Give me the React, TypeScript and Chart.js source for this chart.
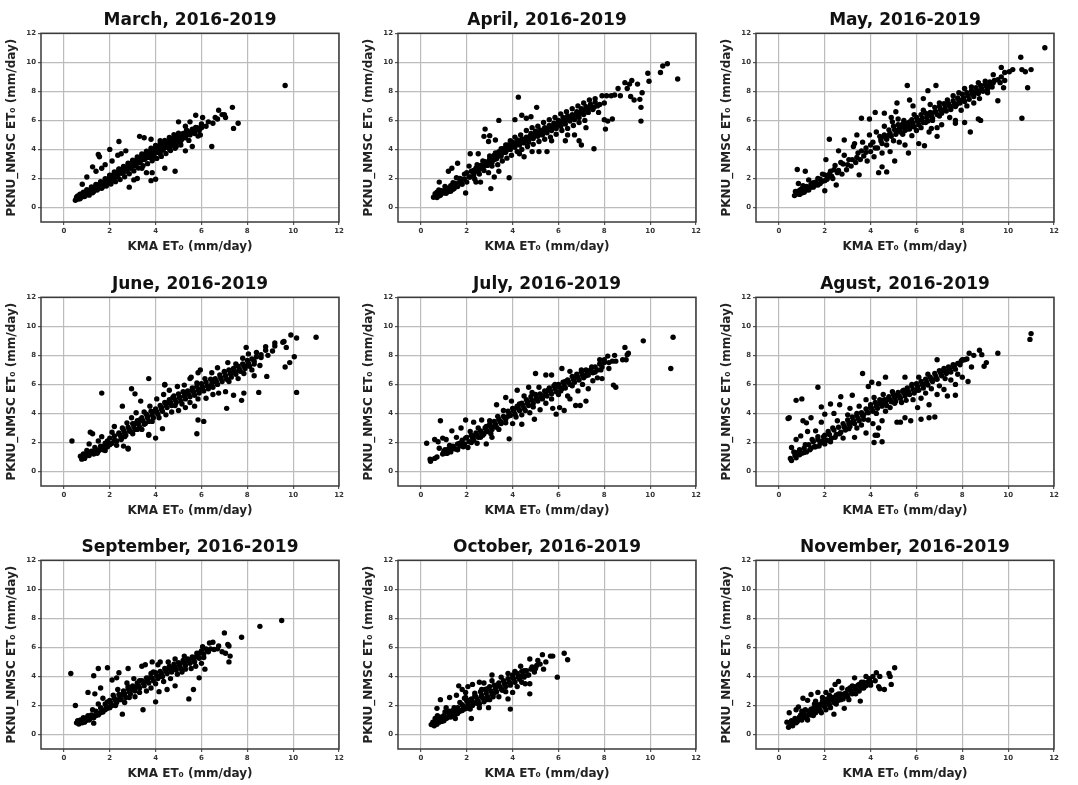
import React, { useEffect, useRef } from "react";
import { Chart, registerables } from "chart.js";

Chart.register(...registerables);

type P = [number, number];

const tickValues = [0, 2, 4, 6, 8, 10, 12];
const xAxisLabel = "KMA ET₀ (mm/day)";
const yAxisLabel = "PKNU_NMSC ET₀ (mm/day)";

const marchPoints: P[] = [
[0.5,0.5],[0.55,0.7],[0.62,0.58],[0.7,0.92],[0.78,0.72],[0.85,1.05],[0.93,0.85],[1.0,1.22],[1.05,0.95],[1.15,1.12],[1.2,1.42],[1.25,1.02],[1.35,1.25],[1.4,1.58],[1.45,1.2],[1.55,1.45],[1.6,1.78],[1.65,1.32],[1.75,1.62],[1.8,1.98],[1.85,1.48],[1.95,1.8],[2.0,2.22],[2.05,1.62],[2.15,2.0],[2.2,2.45],[2.25,1.78],[2.35,2.15],[2.4,2.62],[2.45,1.92],[2.55,2.4],[2.6,2.82],[2.65,2.12],[2.75,2.6],[2.8,3.05],[2.85,2.32],[2.95,2.8],[3.0,3.25],[3.05,2.52],[3.15,3.0],[3.2,3.48],[3.25,2.72],[3.35,3.2],[3.4,3.68],[3.45,2.88],[3.55,3.35],[3.6,3.88],[3.65,3.02],[3.75,3.55],[3.8,4.08],[3.85,3.22],[3.95,3.7],[4.0,4.28],[4.05,3.38],[4.15,3.9],[4.2,4.42],[4.25,3.52],[4.35,4.05],[4.4,4.62],[4.45,3.72],[4.55,4.2],[4.6,4.82],[4.65,3.92],[4.75,4.4],[4.8,5.02],[4.85,4.08],[4.95,4.55],[5.0,5.12],[5.1,4.3],[5.15,4.72],[5.3,4.88],[5.35,5.32],[5.45,4.62],[5.5,5.08],[5.7,5.25],[5.75,5.52],[5.85,4.92],[6.0,5.5],
[9.65,8.4],[7.35,6.9],[7.6,5.8],[7.4,5.45],[6.75,6.7],[7.05,6.2],[6.45,4.2],[5.75,6.35],[6.05,6.2],[5.95,5.0],[5.6,4.2],[4.85,2.5],[5.3,3.9],[2.85,1.4],[3.2,2.0],[3.05,1.9],[3.8,1.85],[4.0,1.95],[3.85,2.4],[3.6,2.4],[2.4,4.55],[2.0,4.0],[1.5,3.65],[1.55,3.5],[1.25,2.8],[1.65,2.7],[1.0,2.1],[0.8,1.6],[2.5,3.7],[2.35,3.6],[2.7,3.9],[3.3,4.9],[3.5,4.8],[3.8,4.7],[4.2,4.6],[5.0,5.9],[5.5,5.9],[5.3,5.6],[6.3,5.9],[6.5,5.8],[6.7,6.1],[6.9,6.4],[7.0,6.4],[6.6,6.2],[6.2,5.6],[4.4,2.7],[3.4,2.7],[2.1,3.2],[1.8,2.95],[1.4,2.5]
];
const marchCore: P[] = [
[.6,.8],[.7,.6],[.8,.95],[.9,.75],[1,1.15],[1.1,.85],[1.2,1.3],[1.3,1.1],[1.4,1.55],[1.5,1.3],[1.6,1.7],[1.7,1.45],[1.8,1.85],[1.9,1.7],[2,2.2],[2.1,1.9],[2.2,2.35],[2.3,2.1],[2.4,2.65],[2.5,2.35],[2.6,2.75],[2.7,2.5],[2.8,2.95],[2.9,2.7],[3,3.2],[3.1,2.85],[3.2,3.35],[3.3,3.1],[3.4,3.6],[3.5,3.3],[3.6,3.7],[3.7,3.45],[3.8,3.95],[3.9,3.65],[4,4.1],[4.1,3.8],[4.2,4.2],[4.3,3.95],[4.4,4.5],[4.5,4.15],[4.6,4.6],[4.7,4.25],[4.8,4.8],[4.9,4.45],[5,5],[5.1,4.6],[5.2,5.1],[5.3,4.8],[5.4,5.25],[5.5,5],[5.6,5.4],[5.7,5.1],[5.8,5.5],[5.9,5.3],[6,5.75],
[.75,.8],[.95,1],[1.15,1.2],[1.35,1.4],[1.55,1.6],[1.75,1.75],[1.95,2],[2.15,2.2],[2.35,2.4],[2.55,2.6],[2.75,2.75],[2.95,2.95],[3.15,3.2],[3.35,3.35],[3.55,3.55],[3.75,3.7],[3.95,3.9],[4.15,4.1],[4.35,4.25],[4.55,4.4],[4.75,4.6],[4.95,4.8],[5.15,4.95],[5.35,5.05],[5.55,5.2],[5.75,5.35],[5.95,5.5],[4.6,4.05],[4.9,4.2],[4.2,3.7],[3.9,3.4]
];

const aprilPoints: P[] = [
[0.55,0.7],[0.62,0.95],[0.7,0.68],[0.78,1.2],[0.85,0.85],[0.8,1.75],[0.95,1.05],[1.05,1.45],[1.1,0.98],[1.2,1.3],[1.3,1.12],[1.4,1.7],[1.45,1.3],[1.55,2.05],[1.6,1.45],[1.7,1.8],[1.6,3.05],[1.8,1.6],[1.9,2.3],[2.0,1.75],[2.1,2.85],[2.15,2.1],[2.3,2.55],[2.35,1.95],[2.45,2.95],[2.55,2.3],[2.6,1.75],[2.7,3.2],[2.75,2.55],[2.85,2.95],[2.95,2.4],[3.0,3.55],[3.1,2.85],[3.2,3.3],[3.25,3.75],[3.35,2.95],[3.45,3.55],[3.5,4.05],[3.55,3.2],[3.65,3.8],[3.7,4.3],[3.75,3.4],[3.85,4.05],[3.9,4.6],[3.95,3.6],[4.05,4.3],[4.1,4.85],[4.2,3.85],[4.25,4.55],[4.35,5.0],[4.4,4.0],[4.5,4.7],[4.6,5.3],[4.65,4.2],[4.75,4.9],[4.85,5.5],[4.9,4.35],[5.0,5.05],[5.1,5.6],[5.15,4.55],[5.25,5.25],[5.35,5.85],[5.4,4.7],[5.5,5.4],[5.6,6.05],[5.65,4.85],[5.75,5.6],[5.85,6.2],[5.9,5.05],[6.0,5.8],[6.1,6.45],[6.15,5.3],[6.25,6.0],[6.35,6.6],[6.4,5.45],[6.5,6.2],[6.6,6.8],[6.65,5.65],[6.75,6.4],[6.85,7.0],[6.9,5.85],[7.0,6.6],[7.1,7.2],[7.15,6.0],[7.25,6.8],[7.35,7.4],
[7.6,7.5],[7.55,6.9],[8.1,7.7],[8.3,7.7],[8.45,7.75],[8.0,7.2],[7.8,7.1],[7.9,7.7],[8.6,8.2],[8.7,7.7],[8.9,8.6],[9.0,8.2],[9.2,8.75],[9.1,8.5],[9.45,8.5],[9.65,7.9],[9.15,7.65],[9.3,7.4],[9.55,7.45],[9.6,6.9],[9.6,5.95],[9.9,9.25],[9.95,8.7],[10.45,9.3],[10.55,9.75],[10.75,9.9],[11.2,8.85],[8.0,6.05],[8.15,5.95],[8.05,5.4],[8.35,6.1],[7.75,6.55],[7.55,4.05],[7.0,4.3],[6.9,4.6],[7.2,5.5],[6.7,5.0],[6.4,5.0],[6.3,4.6],[5.7,4.6],[5.5,3.85],[5.15,3.85],[4.85,3.85],[4.5,3.5],[4.3,3.7],[3.85,2.05],[3.05,1.3],[1.95,1.0],[4.25,7.6],[5.05,6.9],[3.4,6.0],[4.4,6.35],[4.1,6.05],[4.6,6.15],[4.8,6.25],[2.8,5.4],[2.75,4.9],[3.0,4.95],[3.25,4.65],[2.95,4.55],[2.15,3.7],[2.5,3.7],[1.2,2.5],[1.35,2.7],[2.4,1.75],[3.4,2.5],[3.2,2.1]
];
const aprilCore: P[] = [
[.7,1.05],[.8,.8],[.9,1.15],[1,1],[1.1,1.35],[1.2,1.1],[1.3,1.5],[1.4,1.25],[1.5,1.65],[1.6,1.6],[1.7,2],[1.8,1.95],[1.9,1.95],[2,2.4],[2.1,2.1],[2.2,2.5],[2.3,2.2],[2.4,2.7],[2.5,2.45],[2.6,2.9],[2.7,2.7],[2.8,3.15],[2.9,2.9],[3,3.35],[3.1,3.1],[3.2,3.6],[3.3,3.35],[3.4,3.85],[3.5,3.55],[3.6,4.05],[3.7,3.8],[3.8,4.3],[3.9,4.0],[4,4.5],[4.1,4.15],[4.2,4.65],[4.3,4.3],[4.4,4.7],[4.5,4.45],[4.6,4.85],[4.7,4.5],[4.8,5.1],[4.9,4.75],[5,5.25],[5.1,4.9],[5.2,5.35],[5.3,5],[5.4,5.5],[5.5,5.15],[5.6,5.65],[5.7,5.3],[5.8,5.8],[5.9,5.45],[6,6],[6.1,5.6],[6.2,6.2],[6.3,5.75],[6.4,6.3],[6.5,5.95],[6.6,6.4],[6.7,6.05],[6.8,6.6],[6.9,6.2],[7,6.8],[7.1,6.4],[7.2,6.95],[7.3,6.55],[7.4,7.1],[7.5,6.75],[7.6,7.25],[7.7,7],
[3.55,3.75],[3.75,4],[3.95,4.25],[4.15,4.4],[4.35,4.5],[4.55,4.65],[4.75,4.75],[4.95,4.95],[5.15,5.1],[5.35,5.2],[5.55,5.4],[5.75,5.55],[5.95,5.7],[6.15,5.9],[6.35,6.05],[6.55,6.2],[6.75,6.3],[6.95,6.5],[7.15,6.7],[7.35,6.85],[2.35,2.45],[2.55,2.65],[2.75,2.9],[2.95,3.15],[3.15,3.3],[3.35,3.6],[1.25,1.3],[1.45,1.45],[1.05,1.15],[.85,1]
];

const mayPoints: P[] = [
[0.68,0.82],[0.72,1.1],[0.8,0.95],[0.85,1.65],[0.8,2.62],[0.92,1.2],[1.0,1.0],[1.05,1.5],[1.15,1.15],[1.15,2.5],[1.25,1.35],[1.3,1.9],[1.4,1.4],[1.5,1.7],[1.6,1.55],[1.7,2.0],[1.8,1.65],[1.9,2.3],[2.0,1.15],[2.0,1.85],[2.05,3.3],[2.15,2.1],[2.2,4.7],[2.25,2.5],[2.35,2.0],[2.45,2.9],[2.5,1.55],[2.55,2.4],[2.6,3.9],[2.7,3.1],[2.75,2.3],[2.85,4.65],[2.85,3.6],[2.95,2.6],[3.05,3.3],[3.15,2.85],[3.25,4.2],[3.35,3.1],[3.4,5.0],[3.45,3.75],[3.5,2.25],[3.55,3.3],[3.65,4.5],[3.7,3.55],[3.8,4.1],[3.85,3.2],[3.95,5.0],[4.0,3.85],[4.1,4.5],[4.15,3.5],[4.25,5.2],[4.3,4.1],[4.35,2.4],[4.45,4.75],[4.5,2.8],[4.5,3.75],[4.6,5.6],[4.7,4.3],[4.7,2.45],[4.8,5.0],[4.85,3.85],[4.95,5.9],[5.0,4.6],[5.05,3.2],[5.1,5.3],[5.2,6.1],[5.25,4.5],[5.3,5.5],[5.4,5.05],[5.45,6.0],[5.5,4.3],[5.6,5.4],[5.65,3.75],[5.7,5.9],[5.8,4.95],[5.85,5.6],[5.9,6.4],[6.0,5.3],[6.1,4.4],[6.1,6.0],[6.2,5.5],[6.3,6.7],[6.35,4.25],[6.4,5.85],[6.5,6.3],[6.55,5.2],[6.6,7.1],[6.7,6.0],[6.8,6.6],[6.9,5.5],[7.0,7.2],[7.0,6.3],[7.1,5.7],[7.2,6.7],[7.35,7.4],[7.45,6.2],[7.5,6.9],[7.6,7.7],[7.7,6.0],[7.75,7.1],[7.85,7.9],[7.95,6.7],[8.0,7.4],[8.1,8.2],[8.2,7.0],[8.25,7.7],[8.4,8.3],[8.5,7.2],[8.55,7.9],[8.7,8.6],[8.75,7.5],[8.85,8.1],[9.0,8.7],[9.1,7.9],[9.2,8.4],[9.35,8.6],[9.55,8.8],[9.7,9.0],[9.65,8.6],[9.85,8.75],[9.85,9.3],[9.7,9.65],[9.35,9.15],[9.55,7.35],[9.8,8.25],
[10.2,9.5],[10.05,9.35],[10.55,10.35],[10.6,9.5],[10.75,9.35],[11.0,9.5],[11.6,11.0],[10.85,8.25],[10.6,6.15],[8.35,5.2],[8.7,6.1],[8.8,6.0],[8.1,5.85],[7.7,5.8],[6.9,4.9],[6.65,5.45],[5.6,8.4],[6.85,8.4],[6.5,8.05],[5.15,7.2],[5.7,7.4],[5.85,7.0],[6.3,7.5],[3.6,6.15],[3.95,6.1],[4.2,6.55],[4.6,6.5],[5.1,6.6],[4.9,6.2],[3.3,4.4]
];
const mayCore: P[] = [
[.8,1.1],[.9,.9],[1,1.3],[1.1,1.05],[1.2,1.45],[1.3,1.2],[1.4,1.6],[1.5,1.4],[1.6,1.75],[1.7,1.55],[1.8,1.95],[1.9,1.8],[2,2.25],[2.1,1.95],[2.2,2.3],[2.3,2.15],[2.4,2.6],[2.6,2.55],[2.8,3],[3,2.95],[3.2,3.3],[3.4,3.45],[3.6,3.9],[3.8,3.8],[4,4.3],[4.2,4.1],[4.4,4.9],[4.5,4.4],[4.6,5],[4.7,4.7],[4.8,5.35],[4.9,4.9],[5,5.6],[5.1,5.05],[5.2,5.7],[5.3,5.2],[5.4,5.75],[5.5,5.3],[5.6,5.8],[5.7,5.4],[5.8,6.05],[5.9,5.55],[6,6.2],[6.1,5.7],[6.2,6.4],[6.3,5.85],[6.4,6.5],[6.5,5.95],[6.6,6.55],[6.7,6.15],[6.8,6.9],[6.9,6.4],[7,6.95],[7.1,6.5],[7.2,7.15],[7.3,6.65],[7.4,7.15],[7.5,6.75],[7.6,7.35],[7.7,6.95],[7.8,7.55],[7.9,7.2],[8,7.8],[8.1,7.3],[8.2,7.9],[8.3,7.45],[8.4,8.05],[8.5,7.65],[8.6,8.25],[8.7,7.85],[8.8,8.4],[8.9,8],[9,8.5],[9.1,8.15],[9.2,8.65],[9.3,8.3],[9.4,8.75],
[5.05,5.35],[5.25,5.45],[5.45,5.55],[5.65,5.65],[5.85,5.8],[6.05,5.95],[6.25,6.15],[6.45,6.2],[6.65,6.35],[6.85,6.6],[7.05,6.75],[7.25,6.9],[7.45,7],[7.65,7.15],[7.85,7.35],[8.05,7.55],[8.25,7.7],[8.45,7.85],[8.65,8.05],[8.85,8.2],[9.05,8.35],[9.25,8.5],[4.85,5.1],[4.65,4.85],[4.45,4.6]
];

const junePoints: P[] = [
[0.72,1.05],[0.78,0.85],[0.85,1.2],[0.92,1.0],[1.0,1.45],[1.05,1.15],[1.1,1.9],[1.15,2.7],[1.25,2.6],[1.25,1.3],[1.35,1.65],[1.45,1.25],[1.5,2.1],[1.55,1.5],[1.65,2.4],[1.7,1.7],[1.8,1.45],[1.9,2.1],[2.0,1.85],[2.1,2.7],[2.2,2.15],[2.2,3.1],[2.3,1.8],[2.4,2.6],[2.5,2.2],[2.55,3.0],[2.6,1.75],[2.65,2.4],[2.75,3.35],[2.8,1.6],[2.85,2.8],[2.95,3.7],[3.0,2.6],[3.1,3.3],[3.15,4.05],[3.2,2.9],[3.3,3.55],[3.4,2.9],[3.5,4.1],[3.55,3.3],[3.65,3.8],[3.7,2.5],[3.75,4.5],[3.85,3.45],[3.95,4.15],[4.0,2.3],[4.05,5.0],[4.15,3.7],[4.25,4.4],[4.3,2.95],[4.35,5.3],[4.45,3.9],[4.55,4.75],[4.6,5.6],[4.7,4.1],[4.75,5.1],[4.85,4.55],[4.95,5.85],[5.0,4.2],[5.05,5.1],[5.15,4.65],[5.25,5.95],[5.3,4.4],[5.35,5.4],[5.5,6.4],[5.5,4.75],[5.6,5.6],[5.7,4.5],[5.8,6.1],[5.85,5.0],[5.95,7.0],[5.85,6.8],[6.0,5.7],[6.15,6.4],[6.2,5.05],[6.3,5.85],[6.45,6.8],[6.5,5.3],[6.55,6.2],[6.7,7.15],[6.75,5.4],[6.85,6.45],[7.0,6.9],[7.05,5.5],[7.15,7.5],[7.2,6.2],[7.35,6.8],[7.4,5.25],[7.5,7.4],[7.6,6.4],[7.65,6.95],[7.8,7.8],[7.85,6.75],[8.0,7.3],[8.05,8.1],[8.2,7.0],[8.3,7.6],[8.4,8.2],[8.55,7.3],[8.6,7.85],[8.8,8.6],[8.9,8.0],[9.1,8.3],[9.2,8.85],[9.2,8.65],
[0.35,2.1],[1.65,5.4],[2.55,4.5],[2.95,5.7],[3.1,5.35],[3.7,6.4],[3.35,4.85],[2.8,1.55],[3.7,2.55],[5.8,2.6],[5.85,3.55],[6.1,3.45],[7.1,4.35],[7.75,4.9],[7.85,5.4],[8.5,5.45],[8.85,6.55],[10.15,5.45],[9.65,7.2],[9.85,7.5],[10.05,7.9],[9.6,8.95],[9.55,8.9],[9.7,8.55],[9.9,9.4],[10.15,9.2],[11.0,9.25],[7.95,8.55],[8.3,6.6],[4.4,5.95],[4.4,6.0],[5.55,6.5]
];
const juneCore: P[] = [
[.8,1.05],[.9,.9],[1,1.2],[1.1,1.1],[1.2,1.4],[1.3,1.2],[1.4,1.5],[1.5,1.4],[1.6,1.75],[1.7,1.5],[1.8,1.95],[1.9,1.7],[2,2.3],[2.1,1.95],[2.2,2.45],[2.3,2.1],[2.4,2.65],[2.5,2.3],[2.6,2.85],[2.7,2.5],[2.8,3.05],[2.9,2.75],[3,3.3],[3.1,2.9],[3.2,3.5],[3.3,3.05],[3.4,3.7],[3.5,3.25],[3.6,3.95],[3.7,3.45],[3.8,4.15],[3.9,3.7],[4,4.3],[4.1,3.95],[4.2,4.55],[4.3,4.15],[4.4,4.75],[4.5,4.4],[4.6,4.95],[4.7,4.55],[4.8,5.2],[4.9,4.75],[5,5.35],[5.1,4.85],[5.2,5.5],[5.3,5],[5.4,5.55],[5.5,5.15],[5.6,5.75],[5.7,5.25],[5.8,5.85],[5.9,5.4],[6,6.05],[6.1,5.55],[6.2,6.15],[6.3,5.7],[6.4,6.35],[6.5,5.8],[6.6,6.4],[6.7,6],[6.8,6.65],[6.9,6.2],[7,6.85],[7.1,6.35],[7.2,7],[7.3,6.5],[7.4,7.1],[7.5,6.7],[7.6,7.25],[7.7,6.9],[7.8,7.4],[7.9,7.1],[8,7.65],[8.1,7.25],[8.2,7.75],[8.3,7.4],[8.4,7.9],[8.6,8.05],[8.8,8.35],
[3.05,3.1],[3.25,3.3],[3.45,3.5],[3.65,3.7],[3.85,3.9],[4.05,4.1],[4.25,4.3],[4.45,4.55],[4.65,4.75],[4.85,4.95],[5.05,5.1],[5.25,5.2],[5.45,5.3],[5.65,5.5],[5.85,5.6],[6.05,5.8],[6.25,5.9],[6.45,6.05],[6.65,6.2],[6.85,6.4],[7.05,6.6],[7.25,6.75],[7.45,6.9],[7.65,7.05],[7.85,7.25],[8.05,7.45],[2.45,2.5],[2.65,2.65],[2.85,2.9]
];

const julyPoints: P[] = [
[0.25,1.95],[0.4,0.85],[0.42,0.7],[0.6,2.2],[0.6,0.9],[0.75,2.05],[0.7,1.0],[0.85,3.5],[0.8,1.6],[0.95,2.3],[0.95,1.2],[1.05,1.5],[1.1,2.2],[1.15,1.25],[1.25,1.8],[1.3,1.35],[1.35,2.8],[1.45,1.6],[1.55,2.35],[1.6,1.5],[1.7,1.95],[1.75,3.0],[1.85,1.7],[1.95,3.55],[1.95,2.3],[2.05,1.65],[2.15,2.75],[2.2,2.0],[2.3,3.4],[2.35,2.45],[2.45,1.95],[2.5,3.0],[2.6,2.35],[2.65,3.55],[2.75,2.6],[2.85,1.9],[2.85,3.1],[3.0,3.5],[3.05,2.6],[3.1,2.35],[3.2,3.1],[3.3,4.6],[3.35,3.8],[3.4,2.9],[3.5,3.4],[3.6,4.2],[3.7,5.1],[3.7,3.35],[3.8,3.8],[3.85,2.25],[3.95,4.85],[4.0,3.3],[4.05,4.3],[4.15,3.75],[4.2,5.6],[4.3,4.65],[4.4,3.9],[4.4,3.25],[4.5,5.2],[4.55,4.2],[4.65,4.85],[4.7,5.8],[4.75,4.05],[4.85,5.45],[4.9,4.45],[4.95,3.6],[5.0,6.75],[5.05,5.0],[5.15,5.8],[5.2,4.25],[5.3,5.2],[5.45,6.65],[5.45,4.7],[5.55,5.6],[5.7,6.65],[5.7,5.0],[5.75,4.35],[5.85,6.0],[5.9,3.95],[6.0,5.3],[6.05,4.4],[6.15,7.1],[6.15,5.7],[6.25,4.2],[6.3,6.2],[6.4,5.2],[6.5,6.9],[6.5,5.0],[6.6,5.9],[6.75,4.55],[6.8,6.5],[6.85,5.55],[6.95,4.55],[7.0,7.0],[7.05,6.0],[7.2,4.85],[7.2,6.6],[7.3,5.7],[7.45,7.2],[7.5,6.25],[7.6,6.85],[7.7,6.45],[7.8,7.7],[7.85,7.0],[7.9,6.4],[8.0,7.5],[8.15,7.95],[8.2,7.1],[8.35,7.6],[8.45,8.0],[8.5,7.6],[8.4,5.95],[8.5,5.8],[8.8,7.7],[8.9,8.55],[9.0,8.05],[9.05,8.15],[8.95,7.7],
[9.7,9.0],[11.0,9.25],[10.9,7.1]
];
const julyCore: P[] = [
[1,1.4],[1.1,1.25],[1.2,1.55],[1.3,1.45],[1.4,1.75],[1.5,1.55],[1.6,1.9],[1.7,1.75],[1.8,2.15],[1.9,1.9],[2,2.35],[2.1,2.05],[2.2,2.5],[2.3,2.15],[2.4,2.65],[2.5,2.35],[2.6,2.8],[2.7,2.5],[2.8,3],[2.9,2.75],[3,3.25],[3.1,2.9],[3.2,3.45],[3.3,3.05],[3.4,3.6],[3.5,3.3],[3.6,3.8],[3.7,3.6],[3.8,4.15],[3.9,3.85],[4,4.35],[4.1,3.95],[4.2,4.5],[4.3,4.2],[4.4,4.7],[4.5,4.35],[4.6,4.95],[4.7,4.55],[4.8,5.15],[4.9,4.7],[5,5.3],[5.1,4.85],[5.2,5.35],[5.3,5],[5.4,5.55],[5.5,5.2],[5.6,5.75],[5.7,5.35],[5.8,5.9],[5.9,5.5],[6,6],[6.1,5.55],[6.2,6.15],[6.3,5.75],[6.4,6.3],[6.5,6],[6.6,6.55],[6.7,6.15],[6.8,6.7],[6.9,6.3],[7,6.85],[7.1,6.45],[7.2,7],[7.3,6.65],[7.4,7],[7.5,6.8],[7.6,7.2],[7.7,7],[7.8,7.4],[7.9,7.2],[8,7.7],[8.2,7.5],
[3.85,4],[4.05,4.15],[4.25,4.35],[4.45,4.55],[4.65,4.7],[4.85,4.9],[5.05,5.05],[5.25,5.15],[5.45,5.35],[5.65,5.55],[5.85,5.7],[6.05,5.8],[6.25,5.95],[6.45,6.15],[6.65,6.35],[6.85,6.5],[7.05,6.65],[7.25,6.8],[7.45,6.9],[2.25,2.3],[2.45,2.5],[2.65,2.65],[2.85,2.85],[3.05,3.05],[3.25,3.25],[3.45,3.45],[3.65,3.7]
];

const augustPoints: P[] = [
[0.4,3.65],[0.45,3.7],[0.5,0.9],[0.55,1.65],[0.55,0.75],[0.65,1.35],[0.75,0.95],[0.75,4.9],[1.0,5.0],[0.75,2.2],[0.9,1.15],[0.95,2.45],[1.05,3.5],[1.1,1.3],[1.15,1.85],[1.2,3.35],[1.25,2.75],[1.35,1.5],[1.4,3.7],[1.45,2.2],[1.55,1.7],[1.6,2.8],[1.7,5.8],[1.7,2.2],[1.75,1.75],[1.85,4.45],[1.85,3.4],[1.95,2.4],[2.0,3.95],[2.0,1.9],[2.15,2.75],[2.25,4.65],[2.25,2.05],[2.35,3.0],[2.4,4.0],[2.45,2.35],[2.55,3.5],[2.65,4.6],[2.65,2.6],[2.7,5.15],[2.8,2.3],[2.85,3.1],[3.0,3.9],[3.05,2.95],[3.1,4.35],[3.2,5.25],[3.2,3.4],[3.3,2.35],[3.4,4.0],[3.4,3.0],[3.5,4.5],[3.6,3.2],[3.65,6.75],[3.7,3.9],[3.8,4.95],[3.8,2.65],[3.9,5.85],[3.9,3.55],[4.0,4.4],[4.05,6.15],[4.1,3.3],[4.15,5.1],[4.15,2.0],[4.2,2.5],[4.25,4.0],[4.35,3.0],[4.3,2.5],[4.35,6.05],[4.4,4.7],[4.5,2.05],[4.5,3.5],[4.55,5.3],[4.65,6.5],[4.65,4.15],[4.75,5.0],[4.85,4.4],[4.95,5.5],[5.05,4.7],[5.15,5.2],[5.15,3.4],[5.3,3.4],[5.35,4.75],[5.45,5.6],[5.5,6.5],[5.5,3.7],[5.55,4.9],[5.65,5.4],[5.75,3.5],[5.8,6.0],[5.85,4.95],[6.0,5.6],[6.05,4.4],[6.1,6.5],[6.2,5.05],[6.2,3.6],[6.3,6.0],[6.4,5.4],[6.5,6.7],[6.55,4.6],[6.55,3.7],[6.65,5.7],[6.8,3.75],[6.85,6.4],[6.9,7.7],[6.9,5.3],[7.0,5.9],[7.15,6.95],[7.2,5.65],[7.25,6.4],[7.35,5.2],[7.4,6.9],[7.5,6.3],[7.65,7.2],[7.7,5.25],[7.7,6.0],[7.8,6.7],[7.95,7.6],[8.0,6.5],[8.1,7.7],[8.25,6.2],[8.3,8.15],[8.4,7.2],[8.5,8.0],[8.75,8.35],[8.85,8.05],[8.95,7.25],[9.05,7.5],[9.55,8.15],[10.95,9.1],[11.0,9.5]
];
const augustCore: P[] = [
[.7,1.1],[.8,1.3],[.9,1.5],[1,1.25],[1.1,1.6],[1.2,1.35],[1.3,1.85],[1.4,1.6],[1.5,2.05],[1.6,1.7],[1.7,2.4],[1.8,1.95],[1.9,2.1],[2,2.5],[2.1,2.15],[2.2,2.55],[2.3,2.3],[2.4,2.85],[2.5,2.55],[2.6,3.05],[2.7,2.7],[2.8,3.3],[2.9,2.85],[3,3.55],[3.1,3.1],[3.2,3.75],[3.3,3.3],[3.4,3.85],[3.5,3.5],[3.6,4.05],[3.7,3.6],[3.8,4.3],[3.9,4.05],[4,4.6],[4.1,4.15],[4.2,4.75],[4.3,4.35],[4.4,4.95],[4.5,4.5],[4.6,4.95],[4.7,4.55],[4.8,5.15],[4.9,4.8],[5,5.3],[5.1,4.85],[5.2,5.45],[5.3,5.05],[5.4,5.55],[5.5,5.2],[5.6,5.75],[5.7,5.3],[5.8,5.9],[5.9,5.4],[6,6.05],[6.1,5.6],[6.2,6.2],[6.3,5.75],[6.4,6.35],[6.5,5.95],[6.6,6.5],[6.7,6.2],[6.8,6.75],[6.9,6.35],[7,6.95],[7.1,6.6],[7.2,7.1],[7.3,6.75],[7.4,7.2],[7.5,6.85],[7.6,7.35],[7.7,7.05],[7.8,7.45],[7.9,7.35],[8,7.7],[8.2,7.75],
[3.25,3.5],[3.45,3.65],[3.65,3.85],[3.85,4.1],[4.05,4.35],[4.25,4.5],[4.45,4.7],[4.65,4.75],[4.85,4.95],[5.05,5.1],[5.25,5.2],[5.45,5.4],[5.65,5.5],[5.85,5.65],[6.05,5.85],[6.25,6],[6.45,6.15],[6.65,6.35],[6.85,6.55],[7.05,6.8],[7.25,6.9],[7.45,7.05],[7.65,7.2],[3.05,3.3],[2.85,3.05]
];

const septemberPoints: P[] = [
[0.3,4.2],[0.5,2.0],[0.55,0.8],[0.6,0.95],[0.65,0.72],[0.72,1.0],[0.8,0.8],[0.85,1.15],[0.95,0.95],[1.05,2.9],[1.05,1.3],[1.15,1.1],[1.25,1.7],[1.3,4.05],[1.3,0.78],[1.35,2.8],[1.4,1.3],[1.5,4.55],[1.5,2.1],[1.6,3.2],[1.6,1.5],[1.7,2.5],[1.8,1.7],[1.9,4.6],[1.9,2.25],[2.0,1.85],[2.1,3.75],[2.15,2.7],[2.25,2.0],[2.3,3.9],[2.35,3.1],[2.4,2.4],[2.4,4.25],[2.55,1.4],[2.55,2.75],[2.65,2.2],[2.75,3.55],[2.8,4.55],[2.85,2.55],[2.95,3.1],[3.05,3.85],[3.1,2.6],[3.2,3.3],[3.3,2.9],[3.45,1.7],[3.4,4.7],[3.5,3.6],[3.55,4.8],[3.6,3.0],[3.7,3.9],[3.8,3.2],[3.85,5.0],[3.9,4.3],[4.0,2.25],[4.0,3.5],[4.1,4.8],[4.2,5.0],[4.15,2.95],[4.25,4.0],[4.35,3.65],[4.45,4.5],[4.5,3.1],[4.55,5.0],[4.65,3.85],[4.75,4.6],[4.85,5.2],[4.85,3.35],[4.95,4.15],[5.05,4.85],[5.15,4.3],[5.25,5.4],[5.3,4.5],[5.45,5.1],[5.45,2.45],[5.55,4.55],[5.65,3.1],[5.7,5.3],[5.75,4.7],[5.9,5.6],[5.9,3.9],[6.0,4.9],[6.05,6.05],[6.1,5.3],[6.15,4.5],[6.25,5.8],[6.35,6.3],[6.5,6.35],[6.55,5.85],[6.7,5.9],[6.75,6.1],[6.9,5.7],[7.0,7.0],[7.05,5.6],[7.15,6.2],[7.2,6.1],[7.25,5.4],[7.2,5.0],[7.75,6.7],[8.55,7.45],[9.5,7.85],[2.8,3.3],[3.3,3.7]
];
const septemberCore: P[] = [
[.7,.85],[.8,1],[.9,.85],[1,1.15],[1.1,1],[1.2,1.35],[1.3,1.15],[1.4,1.6],[1.5,1.35],[1.6,1.85],[1.7,1.55],[1.8,2.1],[1.9,1.8],[2,2.35],[2.1,2],[2.2,2.5],[2.3,2.2],[2.4,2.75],[2.5,2.4],[2.6,3],[2.7,2.55],[2.8,3.15],[2.9,2.8],[3,3.35],[3.1,3],[3.2,3.55],[3.3,3.2],[3.4,3.7],[3.5,3.35],[3.6,3.9],[3.7,3.55],[3.8,4.2],[3.9,3.7],[4,4.25],[4.1,3.85],[4.2,4.35],[4.3,4],[4.4,4.55],[4.5,4.2],[4.6,4.7],[4.7,4.3],[4.8,4.85],[4.9,4.45],[5,4.95],[5.1,4.55],[5.2,5.1],[5.3,4.75],[5.4,5.2],[5.5,4.9],[5.6,5.35],[5.7,5],[5.8,5.6],[5.9,5.25],[6,5.75],[6.1,5.55],[6.2,5.9],[6.3,5.7],[6.4,5.9],
[1.25,1.3],[1.45,1.45],[1.65,1.7],[1.85,1.95],[2.05,2.15],[2.25,2.35],[2.45,2.55],[2.65,2.8],[2.85,2.95],[3.05,3.2],[3.25,3.35],[3.45,3.55],[3.65,3.7],[3.85,3.9],[4.05,4.05],[4.25,4.2],[4.45,4.35],[4.65,4.5],[4.85,4.65],[5.05,4.75],[5.25,4.95],[5.45,5.05],[5.65,5.2],[5.85,5.4]
];

const octoberPoints: P[] = [
[0.45,0.68],[0.52,0.85],[0.58,0.6],[0.62,1.1],[0.68,0.75],[0.72,1.3],[0.7,1.8],[0.85,2.4],[0.8,0.85],[0.9,1.2],[1.0,0.95],[1.05,1.55],[1.1,1.85],[1.15,1.15],[1.25,2.55],[1.25,1.6],[1.35,1.3],[1.45,1.85],[1.5,1.1],[1.55,2.7],[1.6,1.45],[1.65,3.35],[1.7,2.2],[1.8,1.65],[1.8,3.1],[1.9,2.5],[2.0,1.8],[2.05,3.3],[2.1,2.35],[2.2,1.1],[2.25,3.45],[2.25,2.0],[2.35,2.85],[2.45,2.15],[2.55,3.6],[2.55,1.85],[2.65,2.7],[2.75,3.55],[2.75,2.25],[2.9,3.15],[2.95,1.85],[3.0,2.4],[3.1,3.7],[3.1,4.1],[3.2,2.85],[3.3,3.4],[3.4,2.6],[3.5,3.95],[3.55,3.05],[3.65,3.5],[3.7,2.95],[3.8,4.2],[3.8,2.45],[3.9,1.75],[3.9,3.4],[4.0,3.9],[4.0,2.9],[4.1,4.35],[4.2,3.3],[4.3,4.0],[4.35,4.7],[4.4,3.6],[4.5,4.4],[4.55,3.5],[4.65,4.1],[4.75,5.2],[4.75,2.8],[4.75,3.5],[4.85,4.65],[4.95,4.3],[5.05,4.75],[5.1,5.1],[5.2,4.85],[5.3,5.5],[5.35,4.5],[5.45,5.0],[5.65,5.4],[5.75,5.4],[5.95,3.95],[6.25,5.6],[6.4,5.15],[1.95,2.9],[2.65,3.1]
];
const octoberCore: P[] = [
[.6,.85],[.7,.7],[.8,1.05],[.9,.9],[1,1.3],[1.1,1.1],[1.2,1.5],[1.3,1.2],[1.4,1.65],[1.5,1.4],[1.6,1.85],[1.7,1.6],[1.8,2.05],[1.9,1.75],[2,2.3],[2.1,1.95],[2.2,2.45],[2.3,2.15],[2.4,2.6],[2.5,2.3],[2.6,2.95],[2.7,2.5],[2.8,3.1],[2.9,2.6],[3,3.3],[3.1,2.75],[3.2,3.4],[3.3,2.95],[3.4,3.55],[3.5,3.15],[3.6,3.7],[3.7,3.3],[3.8,3.85],[3.9,3.55],[4,4.1],[4.1,3.6],[4.2,4.2],[4.3,3.8],[4.4,4.35],[4.5,3.95],[4.6,4.4],[4.7,4.1],[4.8,4.5],[5,4.55],
[1.25,1.35],[1.45,1.6],[1.65,1.7],[1.85,1.95],[2.05,2.1],[2.25,2.25],[2.45,2.45],[2.65,2.6],[2.85,2.85],[3.05,3],[3.25,3.15],[3.45,3.3],[3.65,3.5],[3.85,3.6],[4.05,3.85],[4.25,3.95],[4.45,4.1],[2.15,1.75],[2.55,2.1],[2.85,2.4],[3.15,2.6],[1.95,2.55],[2.35,2.65]
];

const novemberPoints: P[] = [
[0.35,0.85],[0.42,0.5],[0.45,1.5],[0.5,0.7],[0.55,0.95],[0.6,0.6],[0.7,1.1],[0.75,0.8],[0.75,1.7],[0.85,1.9],[0.85,1.0],[0.95,1.35],[1.05,2.5],[1.05,1.15],[1.15,1.7],[1.25,1.0],[1.25,2.35],[1.3,1.35],[1.4,2.75],[1.4,1.75],[1.5,1.3],[1.55,2.1],[1.65,1.6],[1.7,2.9],[1.75,1.95],[1.85,1.5],[1.9,2.55],[1.95,2.1],[2.05,2.9],[2.05,1.7],[2.15,2.35],[2.25,1.85],[2.3,3.05],[2.35,2.55],[2.4,1.4],[2.45,3.45],[2.5,2.1],[2.6,2.8],[2.6,3.65],[2.7,2.4],[2.75,3.2],[2.85,1.8],[2.85,2.65],[3.0,3.1],[3.05,2.4],[3.15,2.9],[3.2,3.35],[3.3,3.9],[3.35,2.8],[3.45,3.4],[3.5,3.0],[3.55,2.3],[3.6,3.6],[3.7,3.2],[3.8,4.0],[3.85,3.45],[3.95,3.85],[4.0,3.4],[4.1,4.0],[4.2,3.7],[4.25,4.25],[4.35,3.3],[4.4,4.0],[4.4,3.15],[4.6,3.1],[4.8,4.2],[4.85,4.0],[4.9,3.45],[5.05,4.6],[1.0,1.6],[1.6,2.3],[2.2,2.7]
];
const novemberCore: P[] = [
[.5,.85],[.6,.75],[.7,.95],[.8,.9],[.9,1.2],[1,1],[1.1,1.4],[1.2,1.2],[1.3,1.6],[1.4,1.35],[1.5,1.8],[1.6,1.5],[1.7,2.05],[1.8,1.65],[1.9,2.3],[2,1.9],[2.1,2.45],[2.2,2.05],[2.3,2.55],[2.4,2.2],[2.5,2.7],[2.6,2.35],[2.7,2.8],[2.8,2.45],[2.9,2.85],[3,2.6],[3.1,3.2],[3.2,2.8],[3.3,3.3],[3.4,3],[3.5,3.45],[3.6,3.2],[3.7,3.6],[3.8,3.35],[3.9,3.65],[4,3.6],
[1.15,1.3],[1.35,1.5],[1.55,1.65],[1.75,1.8],[1.95,2],[2.15,2.2],[2.35,2.35],[2.55,2.55],[2.75,2.6],[2.95,2.75],[3.15,3],[3.35,3.1],[3.55,3.3],[3.75,3.5],[2.05,2.25],[2.25,2.45],[1.85,2.1],[2.45,2.5],[1.65,1.9],[1.45,1.6]
];

const panels: { title: string; points: P[]; core: P[] }[] = [
  { title: "March, 2016-2019", points: marchPoints, core: marchCore },
  { title: "April, 2016-2019", points: aprilPoints, core: aprilCore },
  { title: "May, 2016-2019", points: mayPoints, core: mayCore },
  { title: "June, 2016-2019", points: junePoints, core: juneCore },
  { title: "July, 2016-2019", points: julyPoints, core: julyCore },
  { title: "Agust, 2016-2019", points: augustPoints, core: augustCore },
  { title: "September, 2016-2019", points: septemberPoints, core: septemberCore },
  { title: "October, 2016-2019", points: octoberPoints, core: octoberCore },
  { title: "November, 2016-2019", points: novemberPoints, core: novemberCore },
];

const FONT = "'DejaVu Sans'";
const columnLefts = [0, 357, 715];
const rowTops = [0, 264, 527];

const framePlugin = {
  id: "frame",
  afterDraw(chart: any) {
    const { ctx, chartArea: a } = chart;
    ctx.save();
    ctx.strokeStyle = "#3a3a3a";
    ctx.lineWidth = 1.5;
    ctx.strokeRect(a.left, a.top, a.right - a.left, a.bottom - a.top);
    ctx.restore();
  },
};

function Panel({ title, points, left, top }: { title: string; points: P[]; left: number; top: number }) {
  const ref = useRef<HTMLCanvasElement>(null);
  useEffect(() => {
    const chart = new Chart(ref.current!, {
      type: "scatter",
      data: {
        datasets: [
          {
            data: points.map(([x, y]) => ({ x, y })),
            backgroundColor: "#000",
            borderWidth: 0,
            pointRadius: 2.7,
          },
        ],
      },
      options: {
        animation: false,
        responsive: false,
        layout: { padding: { right: 18, left: 0, top: 0, bottom: 0 } },
        plugins: {
          legend: { display: false },
          tooltip: { enabled: false },
          title: {
            display: true,
            text: title,
            fullSize: false,
            color: "#111",
            font: { family: FONT, size: 17, weight: "bold" },
            padding: { top: 10.4, bottom: 2.5 },
          },
        },
        scales: {
          x: {
            type: "linear",
            min: -1,
            max: 12,
            afterBuildTicks: (s: any) => {
              s.ticks = tickValues.map((value) => ({ value }));
            },
            afterFit: (s: any) => {
              s.height = 41;
            },
            grid: { color: "#bcbcbc", lineWidth: 1.2, tickLength: 3, tickColor: "#555" },
            border: { display: false },
            ticks: {
              color: "#333",
              font: { family: FONT, size: 7, weight: "bold" },
              padding: 2,
              maxRotation: 0,
              autoSkip: false,
            },
            title: {
              display: true,
              text: xAxisLabel,
              color: "#222",
              font: { family: FONT, size: 12, weight: "bold" },
              padding: { top: 0, bottom: 9 },
            },
          },
          y: {
            type: "linear",
            min: -1,
            max: 12,
            afterBuildTicks: (s: any) => {
              s.ticks = tickValues.map((value) => ({ value }));
            },
            afterFit: (s: any) => {
              s.width = 41;
            },
            grid: { color: "#bcbcbc", lineWidth: 1.2, tickLength: 3, tickColor: "#555" },
            border: { display: false },
            ticks: {
              color: "#333",
              font: { family: FONT, size: 7, weight: "bold" },
              padding: 2,
              autoSkip: false,
            },
            title: {
              display: true,
              text: yAxisLabel,
              color: "#222",
              font: { family: FONT, size: 12, weight: "bold" },
              padding: { top: 5, bottom: 0 },
            },
          },
        },
      },
      plugins: [framePlugin],
    } as any);
    return () => chart.destroy();
  }, []);
  return (
    <canvas
      ref={ref}
      width={357}
      height={263}
      style={{ position: "absolute", left, top, width: 357, height: 263, filter: "blur(0.45px)" }}
    />
  );
}

export default function App() {
  return (
    <div style={{ position: "absolute", left: 0, top: 0, width: 1078, height: 785, background: "#fff", overflow: "hidden" }}>
      {panels.map((p, i) => (
        <Panel
          key={p.title}
          title={p.title}
          points={[...p.points, ...p.core]}
          left={columnLefts[i % 3]}
          top={rowTops[Math.floor(i / 3)]}
        />
      ))}
    </div>
  );
}
